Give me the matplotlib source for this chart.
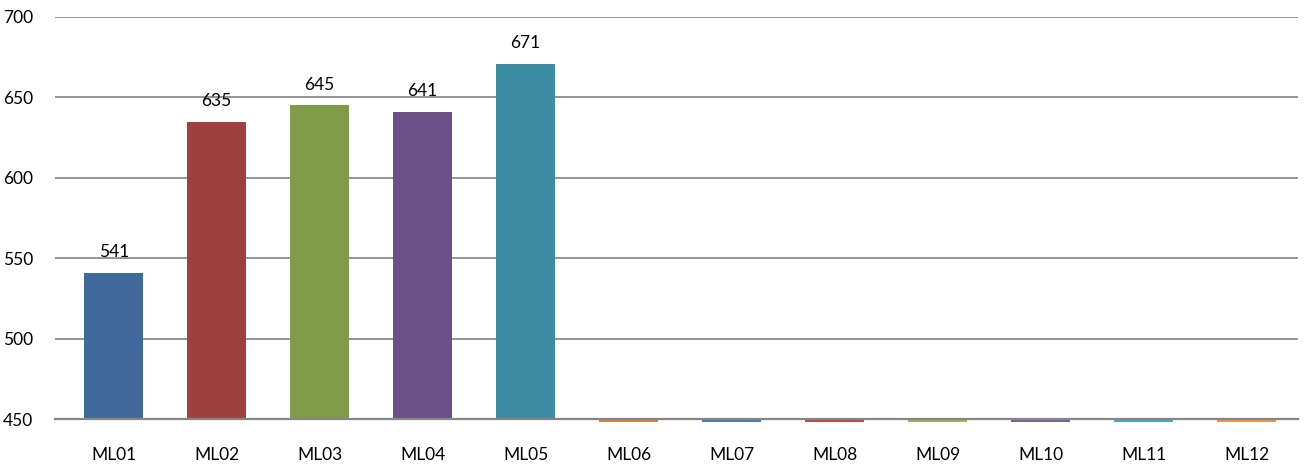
import numpy as np
import matplotlib.pyplot as plt

categories = ["ML01", "ML02", "ML03", "ML04", "ML05", "ML06",
              "ML07", "ML08", "ML09", "ML10", "ML11", "ML12"]
values = [541, 635, 645, 641, 671, 448,
          448, 448, 448, 448, 448, 448]
colors = ["#3F6A9B", "#A04140", "#7F9A49", "#6A5087", "#3B8BA3", "#D7823F",
          "#4A7EBB", "#BE4B48", "#98B954", "#7D60A0", "#46AAC5", "#F69546"]
yticks = [450, 500, 550, 600, 650, 700]
labelled = 5

plt.rcParams['font.family'] = ['Lato', 'DejaVu Sans']

fig = plt.figure(figsize=(13.07, 4.70), dpi=100)
ax = fig.add_axes([55 / 1307, 51 / 470, 1243 / 1307, 402 / 470])

base = 450
x = np.arange(len(categories))
heights = np.array(values) - base
ax.bar(x, heights, bottom=base, width=0.57, color=colors, zorder=3,
       clip_on=False)

for i in range(labelled):
    ax.text(x[i], values[i] + 8, str(values[i]), ha='center', va='bottom',
            fontsize=12.5, color='#000000')

ax.set_ylim(450, 700)
ax.set_xlim(-0.57, len(categories) - 0.5)
ax.set_yticks(yticks)
ax.set_yticklabels([str(t) for t in yticks], fontsize=12.5)
ax.set_xticks(x)
ax.set_xticklabels(categories, fontsize=12.5)
ax.yaxis.grid(True, color='#8C8C8C', linewidth=1.3, zorder=1)
ax.tick_params(axis='both', length=0)
ax.tick_params(axis='y', pad=16)
ax.tick_params(axis='x', pad=20)
for s in ['top', 'right', 'left']:
    ax.spines[s].set_visible(False)
ax.spines['bottom'].set_color('#868686')
ax.spines['bottom'].set_linewidth(1.6)
ax.spines['bottom'].set_zorder(4)

fig.savefig("out.png", dpi=100)
